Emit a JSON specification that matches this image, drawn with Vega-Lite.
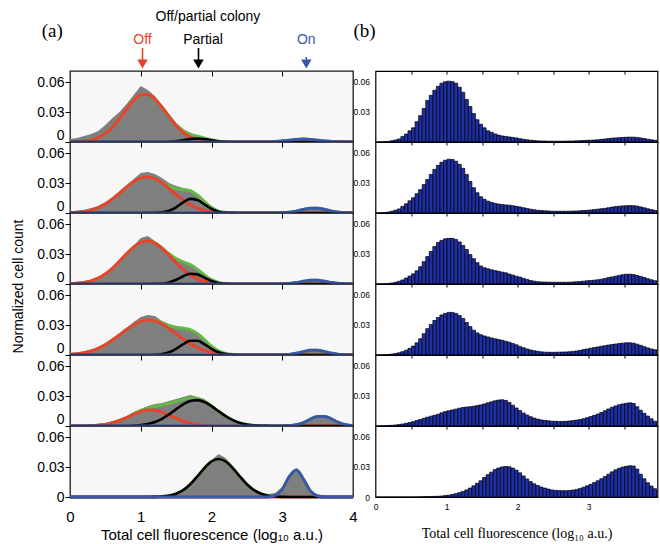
{
"$schema": "https://vega.github.io/schema/vega-lite/v6.json",
"padding": {"left": 10, "top": 5, "right": 0, "bottom": 0},
"background": "white",
"spacing": -8.5,
"config": {"view": {"stroke": null}, "axis": {"grid": false, "domain": false, "labelFont": "Liberation Sans", "titleFont": "Liberation Sans", "labelColor": "#000", "titleColor": "#000", "tickColor": "#000", "titleFontWeight": "normal", "format": "~g"}},
"datasets": {
"H": [{"lab":"Off","ax":1.025,"tx":1.025},{"lab":"Partial","ax":1.816,"tx":1.88},{"lab":"On","ax":3.34,"tx":3.34}],
"L": [
{"p":1,"x":0,"g":0.003,"r":0.0001,"k":0,"b":0,"t":0.0001},
{"p":1,"x":0.1,"g":0.004,"r":0.0003,"k":0,"b":0,"t":0.0003},
{"p":1,"x":0.2,"g":0.006,"r":0.0008,"k":0,"b":0,"t":0.0008},
{"p":1,"x":0.3,"g":0.008,"r":0.0019,"k":0,"b":0,"t":0.0019},
{"p":1,"x":0.4,"g":0.011,"r":0.0043,"k":0,"b":0,"t":0.0043},
{"p":1,"x":0.5,"g":0.017,"r":0.0084,"k":0,"b":0,"t":0.0084},
{"p":1,"x":0.6,"g":0.024,"r":0.0148,"k":0,"b":0,"t":0.0148},
{"p":1,"x":0.7,"g":0.03,"r":0.0234,"k":0,"b":0,"t":0.0234},
{"p":1,"x":0.8,"g":0.038,"r":0.033,"k":0,"b":0,"t":0.033},
{"p":1,"x":0.9,"g":0.047,"r":0.0416,"k":0,"b":0,"t":0.0416},
{"p":1,"x":1,"g":0.056,"r":0.047,"k":0,"b":0,"t":0.047},
{"p":1,"x":1.1,"g":0.052,"r":0.0476,"k":0,"b":0,"t":0.0476},
{"p":1,"x":1.2,"g":0.046,"r":0.043,"k":0,"b":0,"t":0.043},
{"p":1,"x":1.3,"g":0.037,"r":0.0349,"k":0,"b":0,"t":0.0349},
{"p":1,"x":1.4,"g":0.028,"r":0.0253,"k":0.0002,"b":0,"t":0.0255},
{"p":1,"x":1.5,"g":0.019,"r":0.0164,"k":0.0007,"b":0,"t":0.0171},
{"p":1,"x":1.6,"g":0.013,"r":0.0095,"k":0.0018,"b":0,"t":0.0113},
{"p":1,"x":1.7,"g":0.009,"r":0.0049,"k":0.0029,"b":0,"t":0.0078},
{"p":1,"x":1.8,"g":0.006,"r":0.0023,"k":0.0035,"b":0,"t":0.0058},
{"p":1,"x":1.9,"g":0.004,"r":0.001,"k":0.0029,"b":0,"t":0.0039},
{"p":1,"x":2,"g":0.003,"r":0.0004,"k":0.0018,"b":0,"t":0.0022},
{"p":1,"x":2.1,"g":0.002,"r":0.0001,"k":0.0007,"b":0,"t":0.0008},
{"p":1,"x":2.2,"g":0.001,"r":0,"k":0.0002,"b":0,"t":0.0002},
{"p":1,"x":2.3,"g":0.001,"r":0,"k":0,"b":0,"t":0},
{"p":1,"x":2.4,"g":0.001,"r":0,"k":0,"b":0,"t":0},
{"p":1,"x":2.5,"g":0.001,"r":0,"k":0,"b":0,"t":0},
{"p":1,"x":2.6,"g":0.001,"r":0,"k":0,"b":0,"t":0},
{"p":1,"x":2.7,"g":0.001,"r":0,"k":0,"b":0,"t":0},
{"p":1,"x":2.8,"g":0.001,"r":0,"k":0,"b":0,"t":0},
{"p":1,"x":2.9,"g":0.001,"r":0,"k":0,"b":0.0004,"t":0.0004},
{"p":1,"x":3,"g":0.001,"r":0,"k":0,"b":0.001,"t":0.001},
{"p":1,"x":3.1,"g":0.002,"r":0,"k":0,"b":0.0018,"t":0.0018},
{"p":1,"x":3.2,"g":0.003,"r":0,"k":0,"b":0.0026,"t":0.0026},
{"p":1,"x":3.3,"g":0.003,"r":0,"k":0,"b":0.003,"t":0.003},
{"p":1,"x":3.4,"g":0.003,"r":0,"k":0,"b":0.0026,"t":0.0026},
{"p":1,"x":3.5,"g":0.002,"r":0,"k":0,"b":0.0018,"t":0.0018},
{"p":1,"x":3.6,"g":0.001,"r":0,"k":0,"b":0.001,"t":0.001},
{"p":1,"x":3.7,"g":0.001,"r":0,"k":0,"b":0.0004,"t":0.0004},
{"p":1,"x":3.8,"g":0.001,"r":0,"k":0,"b":0.0001,"t":0.0001},
{"p":1,"x":3.9,"g":0.001,"r":0,"k":0,"b":0,"t":0},
{"p":1,"x":4,"g":0.001,"r":0,"k":0,"b":0,"t":0},
{"p":2,"x":0,"g":0.002,"r":0.0003,"k":0,"b":0,"t":0.0003},
{"p":2,"x":0.1,"g":0.002,"r":0.0007,"k":0,"b":0,"t":0.0007},
{"p":2,"x":0.2,"g":0.003,"r":0.0016,"k":0,"b":0,"t":0.0016},
{"p":2,"x":0.3,"g":0.005,"r":0.003,"k":0,"b":0,"t":0.003},
{"p":2,"x":0.4,"g":0.007,"r":0.0054,"k":0,"b":0,"t":0.0054},
{"p":2,"x":0.5,"g":0.011,"r":0.009,"k":0,"b":0,"t":0.009},
{"p":2,"x":0.6,"g":0.016,"r":0.0139,"k":0,"b":0,"t":0.0139},
{"p":2,"x":0.7,"g":0.022,"r":0.0197,"k":0,"b":0,"t":0.0197},
{"p":2,"x":0.8,"g":0.028,"r":0.0258,"k":0,"b":0,"t":0.0258},
{"p":2,"x":0.9,"g":0.034,"r":0.0312,"k":0,"b":0,"t":0.0312},
{"p":2,"x":1,"g":0.04,"r":0.0349,"k":0,"b":0,"t":0.0349},
{"p":2,"x":1.1,"g":0.041,"r":0.036,"k":0,"b":0,"t":0.036},
{"p":2,"x":1.2,"g":0.039,"r":0.0343,"k":0.0001,"b":0,"t":0.0344},
{"p":2,"x":1.3,"g":0.035,"r":0.0302,"k":0.0006,"b":0,"t":0.0308},
{"p":2,"x":1.4,"g":0.03,"r":0.0246,"k":0.0022,"b":0,"t":0.0268},
{"p":2,"x":1.5,"g":0.027,"r":0.0185,"k":0.0057,"b":0,"t":0.0242},
{"p":2,"x":1.6,"g":0.025,"r":0.0128,"k":0.0107,"b":0,"t":0.0235},
{"p":2,"x":1.7,"g":0.023,"r":0.0082,"k":0.0141,"b":0,"t":0.0223},
{"p":2,"x":1.8,"g":0.019,"r":0.0049,"k":0.0131,"b":0,"t":0.018},
{"p":2,"x":1.9,"g":0.013,"r":0.0027,"k":0.0087,"b":0,"t":0.0114},
{"p":2,"x":2,"g":0.007,"r":0.0013,"k":0.0041,"b":0,"t":0.0054},
{"p":2,"x":2.1,"g":0.003,"r":0.0006,"k":0.0013,"b":0,"t":0.0019},
{"p":2,"x":2.2,"g":0.001,"r":0.0003,"k":0.0003,"b":0,"t":0.0006},
{"p":2,"x":2.3,"g":0.001,"r":0.0001,"k":0.0001,"b":0,"t":0.0002},
{"p":2,"x":2.4,"g":0.001,"r":0,"k":0,"b":0,"t":0},
{"p":2,"x":2.5,"g":0.001,"r":0,"k":0,"b":0,"t":0},
{"p":2,"x":2.6,"g":0.001,"r":0,"k":0,"b":0,"t":0},
{"p":2,"x":2.7,"g":0.001,"r":0,"k":0,"b":0,"t":0},
{"p":2,"x":2.8,"g":0.001,"r":0,"k":0,"b":0,"t":0},
{"p":2,"x":2.9,"g":0.001,"r":0,"k":0,"b":0,"t":0},
{"p":2,"x":3,"g":0.001,"r":0,"k":0,"b":0.0002,"t":0.0002},
{"p":2,"x":3.1,"g":0.001,"r":0,"k":0,"b":0.0008,"t":0.0008},
{"p":2,"x":3.2,"g":0.002,"r":0,"k":0,"b":0.0019,"t":0.0019},
{"p":2,"x":3.3,"g":0.004,"r":0,"k":0,"b":0.0035,"t":0.0035},
{"p":2,"x":3.4,"g":0.005,"r":0,"k":0,"b":0.0048,"t":0.0048},
{"p":2,"x":3.5,"g":0.005,"r":0,"k":0,"b":0.0048,"t":0.0048},
{"p":2,"x":3.6,"g":0.004,"r":0,"k":0,"b":0.0035,"t":0.0035},
{"p":2,"x":3.7,"g":0.002,"r":0,"k":0,"b":0.0019,"t":0.0019},
{"p":2,"x":3.8,"g":0.001,"r":0,"k":0,"b":0.0008,"t":0.0008},
{"p":2,"x":3.9,"g":0.001,"r":0,"k":0,"b":0.0002,"t":0.0002},
{"p":2,"x":4,"g":0.001,"r":0,"k":0,"b":0,"t":0},
{"p":3,"x":0,"g":0.002,"r":0.0003,"k":0,"b":0,"t":0.0003},
{"p":3,"x":0.1,"g":0.002,"r":0.0007,"k":0,"b":0,"t":0.0007},
{"p":3,"x":0.2,"g":0.003,"r":0.0015,"k":0,"b":0,"t":0.0015},
{"p":3,"x":0.3,"g":0.004,"r":0.0031,"k":0,"b":0,"t":0.0031},
{"p":3,"x":0.4,"g":0.007,"r":0.0058,"k":0,"b":0,"t":0.0058},
{"p":3,"x":0.5,"g":0.011,"r":0.01,"k":0,"b":0,"t":0.01},
{"p":3,"x":0.6,"g":0.017,"r":0.0157,"k":0,"b":0,"t":0.0157},
{"p":3,"x":0.7,"g":0.024,"r":0.0227,"k":0,"b":0,"t":0.0227},
{"p":3,"x":0.8,"g":0.031,"r":0.0302,"k":0,"b":0,"t":0.0302},
{"p":3,"x":0.9,"g":0.038,"r":0.0369,"k":0,"b":0,"t":0.0369},
{"p":3,"x":1,"g":0.046,"r":0.0416,"k":0,"b":0,"t":0.0416},
{"p":3,"x":1.1,"g":0.048,"r":0.043,"k":0,"b":0,"t":0.043},
{"p":3,"x":1.2,"g":0.043,"r":0.0409,"k":0.0001,"b":0,"t":0.041},
{"p":3,"x":1.3,"g":0.038,"r":0.0357,"k":0.0004,"b":0,"t":0.0361},
{"p":3,"x":1.4,"g":0.031,"r":0.0287,"k":0.0016,"b":0,"t":0.0303},
{"p":3,"x":1.5,"g":0.026,"r":0.0212,"k":0.0042,"b":0,"t":0.0254},
{"p":3,"x":1.6,"g":0.022,"r":0.0144,"k":0.0078,"b":0,"t":0.0222},
{"p":3,"x":1.7,"g":0.019,"r":0.009,"k":0.0103,"b":0,"t":0.0193},
{"p":3,"x":1.8,"g":0.014,"r":0.0052,"k":0.0096,"b":0,"t":0.0148},
{"p":3,"x":1.9,"g":0.009,"r":0.0027,"k":0.0064,"b":0,"t":0.0091},
{"p":3,"x":2,"g":0.005,"r":0.0013,"k":0.003,"b":0,"t":0.0043},
{"p":3,"x":2.1,"g":0.002,"r":0.0006,"k":0.001,"b":0,"t":0.0016},
{"p":3,"x":2.2,"g":0.001,"r":0.0002,"k":0.0002,"b":0,"t":0.0004},
{"p":3,"x":2.3,"g":0.001,"r":0.0001,"k":0,"b":0,"t":0.0001},
{"p":3,"x":2.4,"g":0.001,"r":0,"k":0,"b":0,"t":0},
{"p":3,"x":2.5,"g":0.001,"r":0,"k":0,"b":0,"t":0},
{"p":3,"x":2.6,"g":0.001,"r":0,"k":0,"b":0,"t":0},
{"p":3,"x":2.7,"g":0.001,"r":0,"k":0,"b":0,"t":0},
{"p":3,"x":2.8,"g":0.001,"r":0,"k":0,"b":0,"t":0},
{"p":3,"x":2.9,"g":0.001,"r":0,"k":0,"b":0,"t":0},
{"p":3,"x":3,"g":0.001,"r":0,"k":0,"b":0,"t":0},
{"p":3,"x":3.1,"g":0.001,"r":0,"k":0,"b":0.0005,"t":0.0005},
{"p":3,"x":3.2,"g":0.002,"r":0,"k":0,"b":0.0014,"t":0.0014},
{"p":3,"x":3.3,"g":0.003,"r":0,"k":0,"b":0.0027,"t":0.0027},
{"p":3,"x":3.4,"g":0.004,"r":0,"k":0,"b":0.0038,"t":0.0038},
{"p":3,"x":3.5,"g":0.004,"r":0,"k":0,"b":0.0038,"t":0.0038},
{"p":3,"x":3.6,"g":0.003,"r":0,"k":0,"b":0.0027,"t":0.0027},
{"p":3,"x":3.7,"g":0.002,"r":0,"k":0,"b":0.0014,"t":0.0014},
{"p":3,"x":3.8,"g":0.001,"r":0,"k":0,"b":0.0005,"t":0.0005},
{"p":3,"x":3.9,"g":0.001,"r":0,"k":0,"b":0.0001,"t":0.0001},
{"p":3,"x":4,"g":0.001,"r":0,"k":0,"b":0,"t":0},
{"p":4,"x":0,"g":0.002,"r":0.0006,"k":0,"b":0,"t":0.0006},
{"p":4,"x":0.1,"g":0.002,"r":0.0012,"k":0,"b":0,"t":0.0012},
{"p":4,"x":0.2,"g":0.003,"r":0.0023,"k":0,"b":0,"t":0.0023},
{"p":4,"x":0.3,"g":0.005,"r":0.004,"k":0,"b":0,"t":0.004},
{"p":4,"x":0.4,"g":0.008,"r":0.0067,"k":0,"b":0,"t":0.0067},
{"p":4,"x":0.5,"g":0.011,"r":0.0103,"k":0,"b":0,"t":0.0103},
{"p":4,"x":0.6,"g":0.016,"r":0.0149,"k":0,"b":0,"t":0.0149},
{"p":4,"x":0.7,"g":0.021,"r":0.0201,"k":0,"b":0,"t":0.0201},
{"p":4,"x":0.8,"g":0.027,"r":0.0255,"k":0,"b":0,"t":0.0255},
{"p":4,"x":0.9,"g":0.033,"r":0.0303,"k":0,"b":0,"t":0.0303},
{"p":4,"x":1,"g":0.038,"r":0.0336,"k":0,"b":0,"t":0.0336},
{"p":4,"x":1.1,"g":0.04,"r":0.035,"k":0,"b":0,"t":0.035},
{"p":4,"x":1.2,"g":0.039,"r":0.0341,"k":0.0002,"b":0,"t":0.0343},
{"p":4,"x":1.3,"g":0.034,"r":0.0311,"k":0.0009,"b":0,"t":0.032},
{"p":4,"x":1.4,"g":0.031,"r":0.0265,"k":0.0027,"b":0,"t":0.0292},
{"p":4,"x":1.5,"g":0.029,"r":0.0212,"k":0.0062,"b":0,"t":0.0274},
{"p":4,"x":1.6,"g":0.028,"r":0.0159,"k":0.0108,"b":0,"t":0.0267},
{"p":4,"x":1.7,"g":0.026,"r":0.0111,"k":0.0142,"b":0,"t":0.0253},
{"p":4,"x":1.8,"g":0.022,"r":0.0073,"k":0.0142,"b":0,"t":0.0215},
{"p":4,"x":1.9,"g":0.016,"r":0.0045,"k":0.0108,"b":0,"t":0.0153},
{"p":4,"x":2,"g":0.009,"r":0.0026,"k":0.0062,"b":0,"t":0.0088},
{"p":4,"x":2.1,"g":0.004,"r":0.0014,"k":0.0027,"b":0,"t":0.0041},
{"p":4,"x":2.2,"g":0.002,"r":0.0007,"k":0.0009,"b":0,"t":0.0016},
{"p":4,"x":2.3,"g":0.001,"r":0.0003,"k":0.0002,"b":0,"t":0.0005},
{"p":4,"x":2.4,"g":0.001,"r":0.0001,"k":0,"b":0,"t":0.0001},
{"p":4,"x":2.5,"g":0.001,"r":0,"k":0,"b":0,"t":0},
{"p":4,"x":2.6,"g":0.001,"r":0,"k":0,"b":0,"t":0},
{"p":4,"x":2.7,"g":0.001,"r":0,"k":0,"b":0,"t":0},
{"p":4,"x":2.8,"g":0.001,"r":0,"k":0,"b":0,"t":0},
{"p":4,"x":2.9,"g":0.001,"r":0,"k":0,"b":0,"t":0},
{"p":4,"x":3,"g":0.001,"r":0,"k":0,"b":0,"t":0},
{"p":4,"x":3.1,"g":0.001,"r":0,"k":0,"b":0.0006,"t":0.0006},
{"p":4,"x":3.2,"g":0.002,"r":0,"k":0,"b":0.0017,"t":0.0017},
{"p":4,"x":3.3,"g":0.004,"r":0,"k":0,"b":0.0034,"t":0.0034},
{"p":4,"x":3.4,"g":0.005,"r":0,"k":0,"b":0.0048,"t":0.0048},
{"p":4,"x":3.5,"g":0.005,"r":0,"k":0,"b":0.0048,"t":0.0048},
{"p":4,"x":3.6,"g":0.004,"r":0,"k":0,"b":0.0034,"t":0.0034},
{"p":4,"x":3.7,"g":0.002,"r":0,"k":0,"b":0.0017,"t":0.0017},
{"p":4,"x":3.8,"g":0.001,"r":0,"k":0,"b":0.0006,"t":0.0006},
{"p":4,"x":3.9,"g":0.001,"r":0,"k":0,"b":0.0001,"t":0.0001},
{"p":4,"x":4,"g":0.001,"r":0,"k":0,"b":0,"t":0},
{"p":5,"x":0,"g":0.001,"r":0,"k":0,"b":0,"t":0},
{"p":5,"x":0.1,"g":0.001,"r":0,"k":0,"b":0,"t":0},
{"p":5,"x":0.2,"g":0.001,"r":0.0001,"k":0,"b":0,"t":0.0001},
{"p":5,"x":0.3,"g":0.001,"r":0.0003,"k":0,"b":0,"t":0.0003},
{"p":5,"x":0.4,"g":0.002,"r":0.0008,"k":0,"b":0,"t":0.0008},
{"p":5,"x":0.5,"g":0.003,"r":0.0016,"k":0,"b":0,"t":0.0016},
{"p":5,"x":0.6,"g":0.004,"r":0.0032,"k":0,"b":0,"t":0.0032},
{"p":5,"x":0.7,"g":0.007,"r":0.0055,"k":0,"b":0,"t":0.0055},
{"p":5,"x":0.8,"g":0.01,"r":0.0084,"k":0,"b":0,"t":0.0084},
{"p":5,"x":0.9,"g":0.014,"r":0.0116,"k":0.0004,"b":0,"t":0.012},
{"p":5,"x":1,"g":0.017,"r":0.0144,"k":0.0009,"b":0,"t":0.0153},
{"p":5,"x":1.1,"g":0.02,"r":0.0159,"k":0.002,"b":0,"t":0.0179},
{"p":5,"x":1.2,"g":0.022,"r":0.0157,"k":0.004,"b":0,"t":0.0197},
{"p":5,"x":1.3,"g":0.023,"r":0.0139,"k":0.0072,"b":0,"t":0.0211},
{"p":5,"x":1.4,"g":0.025,"r":0.011,"k":0.0117,"b":0,"t":0.0227},
{"p":5,"x":1.5,"g":0.027,"r":0.0078,"k":0.0168,"b":0,"t":0.0246},
{"p":5,"x":1.6,"g":0.029,"r":0.0049,"k":0.0217,"b":0,"t":0.0266},
{"p":5,"x":1.7,"g":0.031,"r":0.0028,"k":0.0251,"b":0,"t":0.0279},
{"p":5,"x":1.8,"g":0.029,"r":0.0014,"k":0.0259,"b":0,"t":0.0273},
{"p":5,"x":1.9,"g":0.027,"r":0.0006,"k":0.024,"b":0,"t":0.0246},
{"p":5,"x":2,"g":0.021,"r":0.0003,"k":0.0199,"b":0,"t":0.0202},
{"p":5,"x":2.1,"g":0.015,"r":0.0001,"k":0.0147,"b":0,"t":0.0148},
{"p":5,"x":2.2,"g":0.01,"r":0,"k":0.0098,"b":0,"t":0.0098},
{"p":5,"x":2.3,"g":0.006,"r":0,"k":0.0058,"b":0,"t":0.0058},
{"p":5,"x":2.4,"g":0.003,"r":0,"k":0.0031,"b":0,"t":0.0031},
{"p":5,"x":2.5,"g":0.002,"r":0,"k":0.0015,"b":0,"t":0.0015},
{"p":5,"x":2.6,"g":0.001,"r":0,"k":0.0006,"b":0,"t":0.0006},
{"p":5,"x":2.7,"g":0.001,"r":0,"k":0.0002,"b":0,"t":0.0002},
{"p":5,"x":2.8,"g":0.001,"r":0,"k":0.0001,"b":0,"t":0.0001},
{"p":5,"x":2.9,"g":0.001,"r":0,"k":0,"b":0,"t":0},
{"p":5,"x":3,"g":0.001,"r":0,"k":0,"b":0.0001,"t":0.0001},
{"p":5,"x":3.1,"g":0.001,"r":0,"k":0,"b":0.0003,"t":0.0003},
{"p":5,"x":3.2,"g":0.002,"r":0,"k":0,"b":0.0012,"t":0.0012},
{"p":5,"x":3.3,"g":0.004,"r":0,"k":0,"b":0.0034,"t":0.0034},
{"p":5,"x":3.4,"g":0.007,"r":0,"k":0,"b":0.0068,"t":0.0068},
{"p":5,"x":3.5,"g":0.01,"r":0,"k":0,"b":0.0096,"t":0.0096},
{"p":5,"x":3.6,"g":0.01,"r":0,"k":0,"b":0.0096,"t":0.0096},
{"p":5,"x":3.7,"g":0.007,"r":0,"k":0,"b":0.0068,"t":0.0068},
{"p":5,"x":3.8,"g":0.004,"r":0,"k":0,"b":0.0034,"t":0.0034},
{"p":5,"x":3.9,"g":0.002,"r":0,"k":0,"b":0.0012,"t":0.0012},
{"p":5,"x":4,"g":0.001,"r":0,"k":0,"b":0.0003,"t":0.0003},
{"p":6,"x":0,"g":0,"r":0,"k":0,"b":0,"t":0},
{"p":6,"x":0.1,"g":0,"r":0,"k":0,"b":0,"t":0},
{"p":6,"x":0.2,"g":0,"r":0,"k":0,"b":0,"t":0},
{"p":6,"x":0.3,"g":0,"r":0,"k":0,"b":0,"t":0},
{"p":6,"x":0.4,"g":0,"r":0,"k":0,"b":0,"t":0},
{"p":6,"x":0.5,"g":0,"r":0,"k":0,"b":0,"t":0},
{"p":6,"x":0.6,"g":0,"r":0,"k":0,"b":0,"t":0},
{"p":6,"x":0.7,"g":0,"r":0,"k":0,"b":0,"t":0},
{"p":6,"x":0.8,"g":0,"r":0,"k":0,"b":0,"t":0},
{"p":6,"x":0.9,"g":0,"r":0,"k":0,"b":0,"t":0},
{"p":6,"x":1,"g":0,"r":0,"k":0,"b":0,"t":0},
{"p":6,"x":1.1,"g":0,"r":0,"k":0,"b":0,"t":0},
{"p":6,"x":1.2,"g":0,"r":0,"k":0.0001,"b":0,"t":0.0001},
{"p":6,"x":1.3,"g":0.001,"r":0,"k":0.0005,"b":0,"t":0.0005},
{"p":6,"x":1.4,"g":0.002,"r":0,"k":0.0013,"b":0,"t":0.0013},
{"p":6,"x":1.5,"g":0.004,"r":0,"k":0.0032,"b":0,"t":0.0032},
{"p":6,"x":1.6,"g":0.008,"r":0,"k":0.0068,"b":0,"t":0.0068},
{"p":6,"x":1.7,"g":0.014,"r":0,"k":0.0127,"b":0,"t":0.0127},
{"p":6,"x":1.8,"g":0.022,"r":0,"k":0.0205,"b":0,"t":0.0205},
{"p":6,"x":1.9,"g":0.031,"r":0,"k":0.0289,"b":0,"t":0.0289},
{"p":6,"x":2,"g":0.037,"r":0,"k":0.0355,"b":0,"t":0.0355},
{"p":6,"x":2.1,"g":0.043,"r":0,"k":0.038,"b":0,"t":0.038},
{"p":6,"x":2.2,"g":0.039,"r":0,"k":0.0355,"b":0,"t":0.0355},
{"p":6,"x":2.3,"g":0.031,"r":0,"k":0.0289,"b":0,"t":0.0289},
{"p":6,"x":2.4,"g":0.022,"r":0,"k":0.0205,"b":0,"t":0.0205},
{"p":6,"x":2.5,"g":0.014,"r":0,"k":0.0127,"b":0,"t":0.0127},
{"p":6,"x":2.6,"g":0.008,"r":0,"k":0.0068,"b":0,"t":0.0068},
{"p":6,"x":2.7,"g":0.004,"r":0,"k":0.0032,"b":0,"t":0.0032},
{"p":6,"x":2.8,"g":0.003,"r":0,"k":0.0013,"b":0.0001,"t":0.0014},
{"p":6,"x":2.9,"g":0.004,"r":0,"k":0.0005,"b":0.0015,"t":0.002},
{"p":6,"x":3,"g":0.01,"r":0,"k":0.0001,"b":0.0077,"t":0.0078},
{"p":6,"x":3.1,"g":0.022,"r":0,"k":0,"b":0.0204,"t":0.0204},
{"p":6,"x":3.2,"g":0.029,"r":0,"k":0,"b":0.0269,"t":0.0269},
{"p":6,"x":3.3,"g":0.02,"r":0,"k":0,"b":0.0177,"t":0.0177},
{"p":6,"x":3.4,"g":0.007,"r":0,"k":0,"b":0.0058,"t":0.0058},
{"p":6,"x":3.5,"g":0.002,"r":0,"k":0,"b":0.001,"t":0.001},
{"p":6,"x":3.6,"g":0.001,"r":0,"k":0,"b":0.0001,"t":0.0001},
{"p":6,"x":3.7,"g":0,"r":0,"k":0,"b":0,"t":0},
{"p":6,"x":3.8,"g":0,"r":0,"k":0,"b":0,"t":0},
{"p":6,"x":3.9,"g":0,"r":0,"k":0,"b":0,"t":0},
{"p":6,"x":4,"g":0,"r":0,"k":0,"b":0,"t":0}
],
"R": [
{"x":0.025,"a":0,"b":0,"c":0,"d":0,"e":0,"f":0},
{"x":0.075,"a":0,"b":0.0002,"c":0.0001,"d":0.0001,"e":0.0001,"f":0},
{"x":0.125,"a":0.0003,"b":0.0005,"c":0.0003,"d":0.0003,"e":0.0002,"f":0},
{"x":0.175,"a":0.0006,"b":0.001,"c":0.0006,"d":0.0005,"e":0.0004,"f":0},
{"x":0.225,"a":0.0012,"b":0.0017,"c":0.001,"d":0.0009,"e":0.0007,"f":0},
{"x":0.275,"a":0.002,"b":0.0027,"c":0.0017,"d":0.0015,"e":0.001,"f":0},
{"x":0.325,"a":0.003,"b":0.004,"c":0.0027,"d":0.0022,"e":0.0014,"f":0},
{"x":0.375,"a":0.0055,"b":0.0065,"c":0.004,"d":0.0033,"e":0.002,"f":0},
{"x":0.425,"a":0.0078,"b":0.009,"c":0.0058,"d":0.0048,"e":0.0026,"f":0},
{"x":0.475,"a":0.011,"b":0.012,"c":0.0078,"d":0.0066,"e":0.0034,"f":0},
{"x":0.525,"a":0.014,"b":0.015,"c":0.01,"d":0.0088,"e":0.0043,"f":0.0001},
{"x":0.575,"a":0.02,"b":0.019,"c":0.013,"d":0.012,"e":0.0054,"f":0.0001},
{"x":0.625,"a":0.026,"b":0.023,"c":0.017,"d":0.016,"e":0.0065,"f":0.0002},
{"x":0.675,"a":0.033,"b":0.028,"c":0.022,"d":0.021,"e":0.0076,"f":0.0003},
{"x":0.725,"a":0.041,"b":0.033,"c":0.027,"d":0.026,"e":0.0087,"f":0.0004},
{"x":0.775,"a":0.046,"b":0.038,"c":0.032,"d":0.03,"e":0.0097,"f":0.0005},
{"x":0.825,"a":0.051,"b":0.043,"c":0.037,"d":0.034,"e":0.0106,"f":0.0006},
{"x":0.875,"a":0.055,"b":0.047,"c":0.041,"d":0.037,"e":0.0115,"f":0.0007},
{"x":0.925,"a":0.058,"b":0.05,"c":0.043,"d":0.0395,"e":0.013,"f":0.001},
{"x":0.975,"a":0.0595,"b":0.052,"c":0.0445,"d":0.041,"e":0.0142,"f":0.0014},
{"x":1.025,"a":0.06,"b":0.053,"c":0.045,"d":0.042,"e":0.015,"f":0.0018},
{"x":1.075,"a":0.0595,"b":0.0528,"c":0.045,"d":0.042,"e":0.0158,"f":0.0025},
{"x":1.125,"a":0.058,"b":0.051,"c":0.0438,"d":0.041,"e":0.0166,"f":0.0033},
{"x":1.175,"a":0.054,"b":0.048,"c":0.0415,"d":0.039,"e":0.0175,"f":0.0043},
{"x":1.225,"a":0.049,"b":0.044,"c":0.038,"d":0.036,"e":0.0182,"f":0.0055},
{"x":1.275,"a":0.042,"b":0.038,"c":0.034,"d":0.032,"e":0.0187,"f":0.007},
{"x":1.325,"a":0.035,"b":0.031,"c":0.029,"d":0.028,"e":0.019,"f":0.0088},
{"x":1.375,"a":0.028,"b":0.025,"c":0.025,"d":0.0245,"e":0.0195,"f":0.011},
{"x":1.425,"a":0.022,"b":0.02,"c":0.021,"d":0.0218,"e":0.0201,"f":0.0135},
{"x":1.475,"a":0.0175,"b":0.016,"c":0.0178,"d":0.02,"e":0.0208,"f":0.016},
{"x":1.525,"a":0.014,"b":0.0135,"c":0.016,"d":0.0188,"e":0.0218,"f":0.0192},
{"x":1.575,"a":0.011,"b":0.0117,"c":0.015,"d":0.0178,"e":0.0228,"f":0.022},
{"x":1.625,"a":0.0095,"b":0.0105,"c":0.014,"d":0.0168,"e":0.0238,"f":0.0245},
{"x":1.675,"a":0.008,"b":0.0095,"c":0.0132,"d":0.016,"e":0.0248,"f":0.027},
{"x":1.725,"a":0.0068,"b":0.0088,"c":0.0125,"d":0.0152,"e":0.0256,"f":0.0285},
{"x":1.775,"a":0.006,"b":0.0083,"c":0.0117,"d":0.0145,"e":0.0259,"f":0.0297},
{"x":1.825,"a":0.0055,"b":0.008,"c":0.011,"d":0.0136,"e":0.0252,"f":0.03},
{"x":1.875,"a":0.005,"b":0.0077,"c":0.0098,"d":0.0126,"e":0.0232,"f":0.0298},
{"x":1.925,"a":0.0045,"b":0.0072,"c":0.0088,"d":0.0114,"e":0.0205,"f":0.0285},
{"x":1.975,"a":0.004,"b":0.0066,"c":0.0077,"d":0.01,"e":0.0178,"f":0.0265},
{"x":2.025,"a":0.0033,"b":0.006,"c":0.0068,"d":0.0085,"e":0.0152,"f":0.0238},
{"x":2.075,"a":0.0027,"b":0.0052,"c":0.0056,"d":0.0072,"e":0.0128,"f":0.0208},
{"x":2.125,"a":0.0022,"b":0.0045,"c":0.0045,"d":0.006,"e":0.0108,"f":0.0178},
{"x":2.175,"a":0.0018,"b":0.0038,"c":0.0035,"d":0.005,"e":0.0092,"f":0.0152},
{"x":2.225,"a":0.0015,"b":0.0032,"c":0.0028,"d":0.0042,"e":0.0078,"f":0.013},
{"x":2.275,"a":0.0012,"b":0.0027,"c":0.0023,"d":0.0036,"e":0.0068,"f":0.0113},
{"x":2.325,"a":0.001,"b":0.0024,"c":0.002,"d":0.0031,"e":0.006,"f":0.0098},
{"x":2.375,"a":0.001,"b":0.0022,"c":0.0019,"d":0.0028,"e":0.0055,"f":0.0088},
{"x":2.425,"a":0.0008,"b":0.002,"c":0.0018,"d":0.0027,"e":0.0051,"f":0.0078},
{"x":2.475,"a":0.0008,"b":0.0018,"c":0.0017,"d":0.0027,"e":0.0048,"f":0.007},
{"x":2.525,"a":0.0008,"b":0.0017,"c":0.0017,"d":0.0027,"e":0.0046,"f":0.0065},
{"x":2.575,"a":0.0008,"b":0.0017,"c":0.0017,"d":0.0028,"e":0.0045,"f":0.0063},
{"x":2.625,"a":0.0008,"b":0.0017,"c":0.0017,"d":0.0029,"e":0.0045,"f":0.0062},
{"x":2.675,"a":0.0009,"b":0.0017,"c":0.0017,"d":0.003,"e":0.0046,"f":0.0062},
{"x":2.725,"a":0.001,"b":0.0018,"c":0.0018,"d":0.0032,"e":0.0049,"f":0.0064},
{"x":2.775,"a":0.001,"b":0.0019,"c":0.002,"d":0.0035,"e":0.0053,"f":0.0068},
{"x":2.825,"a":0.0012,"b":0.002,"c":0.0022,"d":0.004,"e":0.0058,"f":0.0075},
{"x":2.875,"a":0.0013,"b":0.0022,"c":0.0025,"d":0.0046,"e":0.0064,"f":0.0085},
{"x":2.925,"a":0.0015,"b":0.0024,"c":0.0028,"d":0.0053,"e":0.0072,"f":0.0097},
{"x":2.975,"a":0.0017,"b":0.0027,"c":0.0032,"d":0.006,"e":0.0082,"f":0.011},
{"x":3.025,"a":0.0018,"b":0.003,"c":0.0035,"d":0.0067,"e":0.0093,"f":0.0125},
{"x":3.075,"a":0.002,"b":0.0034,"c":0.0038,"d":0.0073,"e":0.0105,"f":0.0142},
{"x":3.125,"a":0.0022,"b":0.0038,"c":0.0042,"d":0.008,"e":0.0118,"f":0.016},
{"x":3.175,"a":0.0026,"b":0.0042,"c":0.0048,"d":0.0086,"e":0.0133,"f":0.018},
{"x":3.225,"a":0.003,"b":0.0046,"c":0.0055,"d":0.0092,"e":0.015,"f":0.0202},
{"x":3.275,"a":0.0034,"b":0.0052,"c":0.0063,"d":0.0098,"e":0.0168,"f":0.0225},
{"x":3.325,"a":0.0038,"b":0.0058,"c":0.007,"d":0.0103,"e":0.0184,"f":0.0248},
{"x":3.375,"a":0.004,"b":0.0063,"c":0.0077,"d":0.0108,"e":0.0198,"f":0.0268},
{"x":3.425,"a":0.0043,"b":0.0067,"c":0.0085,"d":0.0113,"e":0.021,"f":0.0283},
{"x":3.475,"a":0.0045,"b":0.007,"c":0.0092,"d":0.0117,"e":0.0218,"f":0.0295},
{"x":3.525,"a":0.0047,"b":0.0072,"c":0.0096,"d":0.012,"e":0.0224,"f":0.0303},
{"x":3.575,"a":0.0048,"b":0.0073,"c":0.0097,"d":0.012,"e":0.0228,"f":0.0308},
{"x":3.625,"a":0.0048,"b":0.0072,"c":0.0093,"d":0.0116,"e":0.0222,"f":0.0305},
{"x":3.675,"a":0.0045,"b":0.0068,"c":0.0084,"d":0.0107,"e":0.019,"f":0.0275},
{"x":3.725,"a":0.004,"b":0.006,"c":0.0075,"d":0.0095,"e":0.0155,"f":0.0225},
{"x":3.775,"a":0.0034,"b":0.0051,"c":0.0064,"d":0.0082,"e":0.0125,"f":0.018},
{"x":3.825,"a":0.0028,"b":0.0042,"c":0.0052,"d":0.007,"e":0.0098,"f":0.014},
{"x":3.875,"a":0.0022,"b":0.0034,"c":0.0042,"d":0.006,"e":0.0072,"f":0.0108},
{"x":3.925,"a":0.0017,"b":0.0026,"c":0.0033,"d":0.0052,"e":0.0048,"f":0.0082},
{"x":3.975,"a":0.0013,"b":0.002,"c":0.0026,"d":0.0045,"e":0.003,"f":0.006}
]
},
"hconcat": [
{
"spacing": 0,
"bounds": "flush",
"vconcat": [
{
"width": 283, "height": 66,
"data": {"name": "H"},
"view": {"stroke": null},
"layer": [
{"data": {"values": [{}]}, "mark": {"type": "text", "text": "Off/partial colony", "font": "Liberation Sans", "fontSize": 14, "color": "#000"},
 "encoding": {"x": {"datum": 1.95, "type": "quantitative", "scale": {"domain": [0, 4], "nice": false}, "axis": null}, "y": {"datum": 54, "type": "quantitative", "scale": {"domain": [0, 66], "nice": false}, "axis": null}}},
{"data": {"values": [{}]}, "mark": {"type": "text", "text": "(a)", "font": "Liberation Serif", "fontSize": 19, "color": "#000"},
 "encoding": {"x": {"datum": -0.25, "type": "quantitative", "scale": {"domain": [0, 4], "nice": false}, "axis": null}, "y": {"datum": 40, "type": "quantitative", "scale": {"domain": [0, 66], "nice": false}, "axis": null}}},
{"mark": {"type": "text", "font": "Liberation Sans", "fontSize": 14},
 "encoding": {"x": {"field": "tx", "type": "quantitative", "scale": {"domain": [0, 4], "nice": false}, "axis": null}, "y": {"datum": 31, "type": "quantitative", "scale": {"domain": [0, 66], "nice": false}, "axis": null}, "text": {"field": "lab"},
 "color": {"field": "lab", "type": "nominal", "scale": {"domain": ["Off", "Partial", "On"], "range": ["#e8412c", "#000000", "#3a57a8"]}, "legend": null}}},
{"transform": [{"filter": "datum.lab != 'On'"}], "mark": {"type": "rule", "strokeWidth": 1.6},
 "encoding": {"x": {"field": "ax", "type": "quantitative", "scale": {"domain": [0, 4], "nice": false}, "axis": null}, "y": {"datum": 23, "type": "quantitative", "scale": {"domain": [0, 66], "nice": false}, "axis": null}, "y2": {"datum": 9},
 "color": {"field": "lab", "type": "nominal", "scale": {"domain": ["Off", "Partial", "On"], "range": ["#e8412c", "#000000", "#3a57a8"]}, "legend": null}}},
{"transform": [{"filter": "datum.lab == 'On'"}], "mark": {"type": "rule", "strokeWidth": 1.6},
 "encoding": {"x": {"field": "ax", "type": "quantitative", "scale": {"domain": [0, 4], "nice": false}, "axis": null}, "y": {"datum": 14, "type": "quantitative", "scale": {"domain": [0, 66], "nice": false}, "axis": null}, "y2": {"datum": 9},
 "color": {"field": "lab", "type": "nominal", "scale": {"domain": ["Off", "Partial", "On"], "range": ["#e8412c", "#000000", "#3a57a8"]}, "legend": null}}},
{"mark": {"type": "point", "shape": "triangle-down", "filled": true, "size": 110, "opacity": 1},
 "encoding": {"x": {"field": "ax", "type": "quantitative", "scale": {"domain": [0, 4], "nice": false}, "axis": null}, "y": {"datum": 7, "type": "quantitative", "scale": {"domain": [0, 66], "nice": false}, "axis": null},
 "color": {"field": "lab", "type": "nominal", "scale": {"domain": ["Off", "Partial", "On"], "range": ["#e8412c", "#000000", "#3a57a8"]}, "legend": null}}}
]
},
{
"width": 283, "height": 71, "data": {"name": "L"}, "transform": [{"filter": "datum.p == 1"}],
"view": {"fill": "#f7f7f7", "stroke": "#1a1a1a", "strokeWidth": 1.3},
"encoding": {"x": {"field": "x", "type": "quantitative", "scale": {"domain": [0, 4], "nice": false}, "axis": {"orient": "top", "values": [1, 2, 3], "labels": false, "tickSize": -5, "title": null}}},
"layer": [
{"mark": {"type": "area", "color": "#7f7f7f"}, "encoding": {"y": {"field": "g", "type": "quantitative", "stack": null, "scale": {"domain": [0, 0.071], "nice": false}, "axis": {"values": [0, 0.03, 0.06], "tickSize": 5, "labelPadding": 1, "labelFontSize": 14, "labelFlush": true, "title": null}}}},
{"mark": {"type": "line", "color": "#63b946", "strokeWidth": 3, "interpolate": "monotone"}, "encoding": {"y": {"field": "t", "type": "quantitative", "scale": {"domain": [0, 0.071], "nice": false}, "axis": {"values": [0, 0.03, 0.06], "tickSize": 5, "labelPadding": 1, "labelFontSize": 14, "labelFlush": true, "title": null}}}},
{"mark": {"type": "line", "color": "#e8412c", "strokeWidth": 3, "interpolate": "monotone"}, "encoding": {"y": {"field": "r", "type": "quantitative", "scale": {"domain": [0, 0.071], "nice": false}, "axis": {"values": [0, 0.03, 0.06], "tickSize": 5, "labelPadding": 1, "labelFontSize": 14, "labelFlush": true, "title": null}}}},
{"mark": {"type": "line", "color": "#000000", "strokeWidth": 2.6, "interpolate": "monotone"}, "encoding": {"y": {"field": "k", "type": "quantitative", "scale": {"domain": [0, 0.071], "nice": false}, "axis": {"values": [0, 0.03, 0.06], "tickSize": 5, "labelPadding": 1, "labelFontSize": 14, "labelFlush": true, "title": null}}}},
{"mark": {"type": "line", "color": "#3a57a8", "strokeWidth": 3, "interpolate": "monotone"}, "encoding": {"y": {"field": "b", "type": "quantitative", "scale": {"domain": [0, 0.071], "nice": false}, "axis": {"values": [0, 0.03, 0.06], "tickSize": 5, "labelPadding": 1, "labelFontSize": 14, "labelFlush": true, "title": null}}}}
]
},
{
"width": 283, "height": 71, "data": {"name": "L"}, "transform": [{"filter": "datum.p == 2"}],
"view": {"fill": "#f7f7f7", "stroke": "#1a1a1a", "strokeWidth": 1.3},
"encoding": {"x": {"field": "x", "type": "quantitative", "scale": {"domain": [0, 4], "nice": false}, "axis": {"orient": "top", "values": [1, 2, 3], "labels": false, "tickSize": -5, "title": null}}},
"layer": [
{"mark": {"type": "area", "color": "#7f7f7f"}, "encoding": {"y": {"field": "g", "type": "quantitative", "stack": null, "scale": {"domain": [0, 0.071], "nice": false}, "axis": {"values": [0, 0.03, 0.06], "tickSize": 5, "labelPadding": 1, "labelFontSize": 14, "labelFlush": true, "title": null}}}},
{"mark": {"type": "line", "color": "#63b946", "strokeWidth": 3, "interpolate": "monotone"}, "encoding": {"y": {"field": "t", "type": "quantitative", "scale": {"domain": [0, 0.071], "nice": false}, "axis": {"values": [0, 0.03, 0.06], "tickSize": 5, "labelPadding": 1, "labelFontSize": 14, "labelFlush": true, "title": null}}}},
{"mark": {"type": "line", "color": "#e8412c", "strokeWidth": 3, "interpolate": "monotone"}, "encoding": {"y": {"field": "r", "type": "quantitative", "scale": {"domain": [0, 0.071], "nice": false}, "axis": {"values": [0, 0.03, 0.06], "tickSize": 5, "labelPadding": 1, "labelFontSize": 14, "labelFlush": true, "title": null}}}},
{"mark": {"type": "line", "color": "#000000", "strokeWidth": 2.6, "interpolate": "monotone"}, "encoding": {"y": {"field": "k", "type": "quantitative", "scale": {"domain": [0, 0.071], "nice": false}, "axis": {"values": [0, 0.03, 0.06], "tickSize": 5, "labelPadding": 1, "labelFontSize": 14, "labelFlush": true, "title": null}}}},
{"mark": {"type": "line", "color": "#3a57a8", "strokeWidth": 3, "interpolate": "monotone"}, "encoding": {"y": {"field": "b", "type": "quantitative", "scale": {"domain": [0, 0.071], "nice": false}, "axis": {"values": [0, 0.03, 0.06], "tickSize": 5, "labelPadding": 1, "labelFontSize": 14, "labelFlush": true, "title": null}}}}
]
},
{
"width": 283, "height": 71, "data": {"name": "L"}, "transform": [{"filter": "datum.p == 3"}],
"view": {"fill": "#f7f7f7", "stroke": "#1a1a1a", "strokeWidth": 1.3},
"encoding": {"x": {"field": "x", "type": "quantitative", "scale": {"domain": [0, 4], "nice": false}, "axis": {"orient": "top", "values": [1, 2, 3], "labels": false, "tickSize": -5, "title": null}}},
"layer": [
{"mark": {"type": "area", "color": "#7f7f7f"}, "encoding": {"y": {"field": "g", "type": "quantitative", "stack": null, "scale": {"domain": [0, 0.071], "nice": false}, "axis": {"values": [0, 0.03, 0.06], "tickSize": 5, "labelPadding": 1, "labelFontSize": 14, "labelFlush": true, "title": null}}}},
{"mark": {"type": "line", "color": "#63b946", "strokeWidth": 3, "interpolate": "monotone"}, "encoding": {"y": {"field": "t", "type": "quantitative", "scale": {"domain": [0, 0.071], "nice": false}, "axis": {"values": [0, 0.03, 0.06], "tickSize": 5, "labelPadding": 1, "labelFontSize": 14, "labelFlush": true, "title": null}}}},
{"mark": {"type": "line", "color": "#e8412c", "strokeWidth": 3, "interpolate": "monotone"}, "encoding": {"y": {"field": "r", "type": "quantitative", "scale": {"domain": [0, 0.071], "nice": false}, "axis": {"values": [0, 0.03, 0.06], "tickSize": 5, "labelPadding": 1, "labelFontSize": 14, "labelFlush": true, "title": null}}}},
{"mark": {"type": "line", "color": "#000000", "strokeWidth": 2.6, "interpolate": "monotone"}, "encoding": {"y": {"field": "k", "type": "quantitative", "scale": {"domain": [0, 0.071], "nice": false}, "axis": {"values": [0, 0.03, 0.06], "tickSize": 5, "labelPadding": 1, "labelFontSize": 14, "labelFlush": true, "title": null}}}},
{"mark": {"type": "line", "color": "#3a57a8", "strokeWidth": 3, "interpolate": "monotone"}, "encoding": {"y": {"field": "b", "type": "quantitative", "scale": {"domain": [0, 0.071], "nice": false}, "axis": {"values": [0, 0.03, 0.06], "tickSize": 5, "labelPadding": 1, "labelFontSize": 14, "labelFlush": true, "title": null}}}}
]
},
{
"width": 283, "height": 71, "data": {"name": "L"}, "transform": [{"filter": "datum.p == 4"}],
"view": {"fill": "#f7f7f7", "stroke": "#1a1a1a", "strokeWidth": 1.3},
"encoding": {"x": {"field": "x", "type": "quantitative", "scale": {"domain": [0, 4], "nice": false}, "axis": {"orient": "top", "values": [1, 2, 3], "labels": false, "tickSize": -5, "title": null}}},
"layer": [
{"mark": {"type": "area", "color": "#7f7f7f"}, "encoding": {"y": {"field": "g", "type": "quantitative", "stack": null, "scale": {"domain": [0, 0.071], "nice": false}, "axis": {"values": [0, 0.03, 0.06], "tickSize": 5, "labelPadding": 1, "labelFontSize": 14, "labelFlush": true, "title": "Normalized cell count", "titleFontSize": 14, "titleX": -52, "titleY": 2, "titleAngle": 270, "titleAlign": "center", "titleBaseline": "middle"}}}},
{"mark": {"type": "line", "color": "#63b946", "strokeWidth": 3, "interpolate": "monotone"}, "encoding": {"y": {"field": "t", "type": "quantitative", "scale": {"domain": [0, 0.071], "nice": false}, "axis": {"values": [0, 0.03, 0.06], "tickSize": 5, "labelPadding": 1, "labelFontSize": 14, "labelFlush": true, "title": "Normalized cell count", "titleFontSize": 14, "titleX": -52, "titleY": 2, "titleAngle": 270, "titleAlign": "center", "titleBaseline": "middle"}}}},
{"mark": {"type": "line", "color": "#e8412c", "strokeWidth": 3, "interpolate": "monotone"}, "encoding": {"y": {"field": "r", "type": "quantitative", "scale": {"domain": [0, 0.071], "nice": false}, "axis": {"values": [0, 0.03, 0.06], "tickSize": 5, "labelPadding": 1, "labelFontSize": 14, "labelFlush": true, "title": "Normalized cell count", "titleFontSize": 14, "titleX": -52, "titleY": 2, "titleAngle": 270, "titleAlign": "center", "titleBaseline": "middle"}}}},
{"mark": {"type": "line", "color": "#000000", "strokeWidth": 2.6, "interpolate": "monotone"}, "encoding": {"y": {"field": "k", "type": "quantitative", "scale": {"domain": [0, 0.071], "nice": false}, "axis": {"values": [0, 0.03, 0.06], "tickSize": 5, "labelPadding": 1, "labelFontSize": 14, "labelFlush": true, "title": "Normalized cell count", "titleFontSize": 14, "titleX": -52, "titleY": 2, "titleAngle": 270, "titleAlign": "center", "titleBaseline": "middle"}}}},
{"mark": {"type": "line", "color": "#3a57a8", "strokeWidth": 3, "interpolate": "monotone"}, "encoding": {"y": {"field": "b", "type": "quantitative", "scale": {"domain": [0, 0.071], "nice": false}, "axis": {"values": [0, 0.03, 0.06], "tickSize": 5, "labelPadding": 1, "labelFontSize": 14, "labelFlush": true, "title": "Normalized cell count", "titleFontSize": 14, "titleX": -52, "titleY": 2, "titleAngle": 270, "titleAlign": "center", "titleBaseline": "middle"}}}}
]
},
{
"width": 283, "height": 71, "data": {"name": "L"}, "transform": [{"filter": "datum.p == 5"}],
"view": {"fill": "#f7f7f7", "stroke": "#1a1a1a", "strokeWidth": 1.3},
"encoding": {"x": {"field": "x", "type": "quantitative", "scale": {"domain": [0, 4], "nice": false}, "axis": {"orient": "top", "values": [1, 2, 3], "labels": false, "tickSize": -5, "title": null}}},
"layer": [
{"mark": {"type": "area", "color": "#7f7f7f"}, "encoding": {"y": {"field": "g", "type": "quantitative", "stack": null, "scale": {"domain": [0, 0.071], "nice": false}, "axis": {"values": [0, 0.03, 0.06], "tickSize": 5, "labelPadding": 1, "labelFontSize": 14, "labelFlush": true, "title": null}}}},
{"mark": {"type": "line", "color": "#63b946", "strokeWidth": 3, "interpolate": "monotone"}, "encoding": {"y": {"field": "t", "type": "quantitative", "scale": {"domain": [0, 0.071], "nice": false}, "axis": {"values": [0, 0.03, 0.06], "tickSize": 5, "labelPadding": 1, "labelFontSize": 14, "labelFlush": true, "title": null}}}},
{"mark": {"type": "line", "color": "#e8412c", "strokeWidth": 3, "interpolate": "monotone"}, "encoding": {"y": {"field": "r", "type": "quantitative", "scale": {"domain": [0, 0.071], "nice": false}, "axis": {"values": [0, 0.03, 0.06], "tickSize": 5, "labelPadding": 1, "labelFontSize": 14, "labelFlush": true, "title": null}}}},
{"mark": {"type": "line", "color": "#000000", "strokeWidth": 2.6, "interpolate": "monotone"}, "encoding": {"y": {"field": "k", "type": "quantitative", "scale": {"domain": [0, 0.071], "nice": false}, "axis": {"values": [0, 0.03, 0.06], "tickSize": 5, "labelPadding": 1, "labelFontSize": 14, "labelFlush": true, "title": null}}}},
{"mark": {"type": "line", "color": "#3a57a8", "strokeWidth": 3, "interpolate": "monotone"}, "encoding": {"y": {"field": "b", "type": "quantitative", "scale": {"domain": [0, 0.071], "nice": false}, "axis": {"values": [0, 0.03, 0.06], "tickSize": 5, "labelPadding": 1, "labelFontSize": 14, "labelFlush": true, "title": null}}}}
]
},
{
"width": 283, "height": 71, "data": {"name": "L"}, "transform": [{"filter": "datum.p == 6"}],
"view": {"fill": "#f7f7f7", "stroke": "#1a1a1a", "strokeWidth": 1.3},
"encoding": {"x": {"field": "x", "type": "quantitative", "scale": {"domain": [0, 4], "nice": false}, "axis": {"orient": "top", "values": [1, 2, 3], "labels": false, "tickSize": -5, "title": null}}},
"resolve": {"axis": {"x": "independent"}},
"layer": [
{"mark": {"type": "area", "color": "#7f7f7f"}, "encoding": {"y": {"field": "g", "type": "quantitative", "stack": null, "scale": {"domain": [0, 0.071], "nice": false}, "axis": {"values": [0, 0.03, 0.06], "tickSize": 5, "labelPadding": 1, "labelFontSize": 14, "title": null}}}},
{"mark": {"type": "line", "color": "#63b946", "strokeWidth": 3, "interpolate": "monotone"}, "encoding": {"x": {"field": "x", "type": "quantitative", "scale": {"domain": [0, 4], "nice": false}, "axis": {"orient": "bottom", "values": [0, 1, 2, 3, 4], "ticks": false, "labelPadding": 12, "labelFontSize": 15, "labelFlush": false, "title": "Total cell fluorescence (log₁₀ a.u.)", "titleFontSize": 15, "titlePadding": 3}}, "y": {"field": "t", "type": "quantitative", "scale": {"domain": [0, 0.071], "nice": false}, "axis": {"values": [0, 0.03, 0.06], "tickSize": 5, "labelPadding": 1, "labelFontSize": 14, "title": null}}}},
{"mark": {"type": "line", "color": "#e8412c", "strokeWidth": 3, "interpolate": "monotone"}, "encoding": {"x": {"field": "x", "type": "quantitative", "scale": {"domain": [0, 4], "nice": false}, "axis": null}, "y": {"field": "r", "type": "quantitative", "scale": {"domain": [0, 0.071], "nice": false}, "axis": {"values": [0, 0.03, 0.06], "tickSize": 5, "labelPadding": 1, "labelFontSize": 14, "title": null}}}},
{"mark": {"type": "line", "color": "#000000", "strokeWidth": 2.6, "interpolate": "monotone"}, "encoding": {"x": {"field": "x", "type": "quantitative", "scale": {"domain": [0, 4], "nice": false}, "axis": null}, "y": {"field": "k", "type": "quantitative", "scale": {"domain": [0, 0.071], "nice": false}, "axis": {"values": [0, 0.03, 0.06], "tickSize": 5, "labelPadding": 1, "labelFontSize": 14, "title": null}}}},
{"mark": {"type": "line", "color": "#3a57a8", "strokeWidth": 3, "interpolate": "monotone"}, "encoding": {"x": {"field": "x", "type": "quantitative", "scale": {"domain": [0, 4], "nice": false}, "axis": null}, "y": {"field": "b", "type": "quantitative", "scale": {"domain": [0, 0.071], "nice": false}, "axis": {"values": [0, 0.03, 0.06], "tickSize": 5, "labelPadding": 1, "labelFontSize": 14, "title": null}}}}
]
}
]
},
{
"spacing": 0,
"bounds": "flush",
"vconcat": [
{
"width": 282, "height": 66,
"data": {"values": [{}]},
"view": {"stroke": null},
"mark": {"type": "text", "text": "(b)", "font": "Liberation Serif", "fontSize": 19, "color": "#000"},
"encoding": {"x": {"datum": -0.155, "type": "quantitative", "scale": {"domain": [0, 3.97], "nice": false}, "axis": null}, "y": {"datum": 40, "type": "quantitative", "scale": {"domain": [0, 66], "nice": false}, "axis": null}}
},
{
"width": 282, "height": 71, "data": {"name": "R"},
"view": {"fill": "white", "stroke": "#000", "strokeWidth": 1.2},
"mark": {"type": "bar", "fill": "#1d2ea6", "stroke": "#000", "strokeWidth": 0.7, "binSpacing": 0, "clip": true},
"encoding": {
"x": {"field": "x", "type": "quantitative", "bin": {"step": 0.05, "extent": [0, 4]}, "scale": {"domain": [0, 3.97], "nice": false}, "axis": {"orient": "top", "values": [0.5, 1, 1.5, 2, 2.5, 3, 3.5], "labels": false, "tickSize": -3, "title": null}},
"y": {"field": "a", "aggregate": "sum", "type": "quantitative", "scale": {"domain": [0, 0.07], "nice": false}, "axis": {"values": [0.03, 0.06], "ticks": false, "labelPadding": 6, "labelFontSize": 8.5, "title": null}}
}
},
{
"width": 282, "height": 71, "data": {"name": "R"},
"view": {"fill": "white", "stroke": "#000", "strokeWidth": 1.2},
"mark": {"type": "bar", "fill": "#1d2ea6", "stroke": "#000", "strokeWidth": 0.7, "binSpacing": 0, "clip": true},
"encoding": {
"x": {"field": "x", "type": "quantitative", "bin": {"step": 0.05, "extent": [0, 4]}, "scale": {"domain": [0, 3.97], "nice": false}, "axis": {"orient": "top", "values": [0.5, 1, 1.5, 2, 2.5, 3, 3.5], "labels": false, "tickSize": -3, "title": null}},
"y": {"field": "b", "aggregate": "sum", "type": "quantitative", "scale": {"domain": [0, 0.07], "nice": false}, "axis": {"values": [0.03, 0.06], "ticks": false, "labelPadding": 6, "labelFontSize": 8.5, "title": null}}
}
},
{
"width": 282, "height": 71, "data": {"name": "R"},
"view": {"fill": "white", "stroke": "#000", "strokeWidth": 1.2},
"mark": {"type": "bar", "fill": "#1d2ea6", "stroke": "#000", "strokeWidth": 0.7, "binSpacing": 0, "clip": true},
"encoding": {
"x": {"field": "x", "type": "quantitative", "bin": {"step": 0.05, "extent": [0, 4]}, "scale": {"domain": [0, 3.97], "nice": false}, "axis": {"orient": "top", "values": [0.5, 1, 1.5, 2, 2.5, 3, 3.5], "labels": false, "tickSize": -3, "title": null}},
"y": {"field": "c", "aggregate": "sum", "type": "quantitative", "scale": {"domain": [0, 0.07], "nice": false}, "axis": {"values": [0.03, 0.06], "ticks": false, "labelPadding": 6, "labelFontSize": 8.5, "title": null}}
}
},
{
"width": 282, "height": 71, "data": {"name": "R"},
"view": {"fill": "white", "stroke": "#000", "strokeWidth": 1.2},
"mark": {"type": "bar", "fill": "#1d2ea6", "stroke": "#000", "strokeWidth": 0.7, "binSpacing": 0, "clip": true},
"encoding": {
"x": {"field": "x", "type": "quantitative", "bin": {"step": 0.05, "extent": [0, 4]}, "scale": {"domain": [0, 3.97], "nice": false}, "axis": {"orient": "top", "values": [0.5, 1, 1.5, 2, 2.5, 3, 3.5], "labels": false, "tickSize": -3, "title": null}},
"y": {"field": "d", "aggregate": "sum", "type": "quantitative", "scale": {"domain": [0, 0.07], "nice": false}, "axis": {"values": [0.03, 0.06], "ticks": false, "labelPadding": 6, "labelFontSize": 8.5, "title": null}}
}
},
{
"width": 282, "height": 71, "data": {"name": "R"},
"view": {"fill": "white", "stroke": "#000", "strokeWidth": 1.2},
"mark": {"type": "bar", "fill": "#1d2ea6", "stroke": "#000", "strokeWidth": 0.7, "binSpacing": 0, "clip": true},
"encoding": {
"x": {"field": "x", "type": "quantitative", "bin": {"step": 0.05, "extent": [0, 4]}, "scale": {"domain": [0, 3.97], "nice": false}, "axis": {"orient": "top", "values": [0.5, 1, 1.5, 2, 2.5, 3, 3.5], "labels": false, "tickSize": -3, "title": null}},
"y": {"field": "e", "aggregate": "sum", "type": "quantitative", "scale": {"domain": [0, 0.07], "nice": false}, "axis": {"values": [0.03, 0.06], "ticks": false, "labelPadding": 6, "labelFontSize": 8.5, "title": null}}
}
},
{
"width": 282, "height": 71, "data": {"name": "R"},
"view": {"fill": "white", "stroke": "#000", "strokeWidth": 1.2},
"resolve": {"axis": {"x": "independent"}},
"layer": [
{"mark": {"type": "bar", "fill": "#1d2ea6", "stroke": "#000", "strokeWidth": 0.7, "binSpacing": 0, "clip": true},
"encoding": {
"x": {"field": "x", "type": "quantitative", "bin": {"step": 0.05, "extent": [0, 4]}, "scale": {"domain": [0, 3.97], "nice": false}, "axis": {"orient": "top", "values": [0.5, 1, 1.5, 2, 2.5, 3, 3.5], "labels": false, "tickSize": -3, "title": null}},
"y": {"field": "f", "aggregate": "sum", "type": "quantitative", "scale": {"domain": [0, 0.07], "nice": false}, "axis": {"values": [0, 0.03, 0.06], "ticks": false, "labelPadding": 6, "labelFontSize": 8.5, "title": null}}
}},
{"mark": {"type": "bar", "opacity": 0, "binSpacing": 0, "clip": true},
"encoding": {
"x": {"field": "x", "type": "quantitative", "bin": {"step": 0.05, "extent": [0, 4]}, "scale": {"domain": [0, 3.97], "nice": false}, "axis": {"orient": "bottom", "values": [0, 1, 2, 3], "ticks": false, "labelPadding": 5, "labelFontSize": 8.5, "labelFlush": false, "format": "d", "title": "Total cell fluorescence (log₁₀ a.u.)", "titleFont": "Liberation Serif", "titleFontSize": 14, "titlePadding": 16}},
"y": {"field": "f", "aggregate": "sum", "type": "quantitative", "scale": {"domain": [0, 0.07], "nice": false}, "axis": {"values": [0, 0.03, 0.06], "ticks": false, "labelPadding": 6, "labelFontSize": 8.5, "title": null}}
}}
]
}
]
}
]
}
